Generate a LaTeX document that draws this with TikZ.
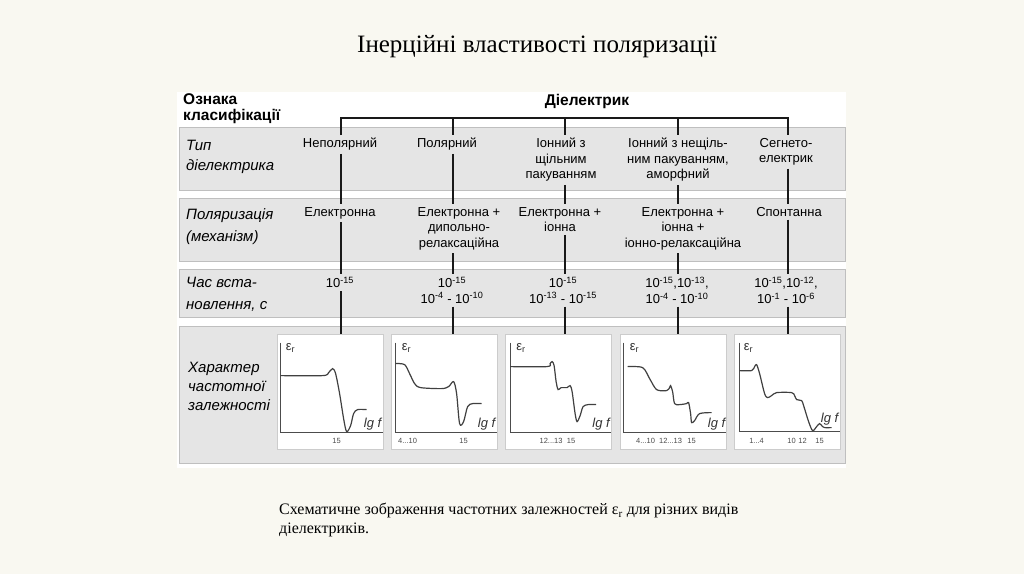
\documentclass[tikz,border=0pt]{standalone}
\usepackage{fontspec}
\setmainfont{Liberation Serif}
\setsansfont{Liberation Sans}
\usepackage{tikz}

\newcommand{\tenp}[1]{10\textsuperscript{#1}}

\begin{document}
\begin{tikzpicture}[x=1pt, y=-1pt,
    band/.style={draw=black!25, fill=black!10, line width=0.8pt},
    colline/.style={line width=2.6pt, black!90},
    coltext/.style={font=\sffamily\fontsize{13}{15.5}\selectfont, align=center, anchor=north, inner sep=3pt},
    rowlabel/.style={font=\sffamily\itshape\fontsize{15}{20}\selectfont, align=left, anchor=north west, inner sep=0pt},
    graphbox/.style={draw=black!20, fill=white, line width=0.8pt, minimum width=106pt, minimum height=115pt, inner sep=0pt},
    curve/.style={line width=1.2pt, black!75},
    axis/.style={line width=1.1pt, black!70},
    tick/.style={font=\sffamily\fontsize{7.5}{8}\selectfont, text=black!70, inner sep=0pt},
    lgf/.style={font=\sffamily\itshape\fontsize{13}{13}\selectfont, text=black!80, inner sep=0pt},
    eps/.style={font=\sffamily\fontsize{13}{13}\selectfont, text=black!80, inner sep=0pt}]
                \fill[black!3!white!97!yellow] (0,0) rectangle (1024,574);
                \useasboundingbox (0,0) rectangle (1024,574);
                \node[font=\fontsize{25}{30}\selectfont] (title) at (537,47) {Інерційні властивості поляризації};
                \fill[white] (177,92) rectangle (846,468);
                \draw[band] (179,127) rectangle (845,190);
                \draw[band] (179,198) rectangle (845,261);
                \draw[band] (179,269) rectangle (845,317);
                \draw[band] (179,326) rectangle (845,463);
                % head of the table
                \node[font=\sffamily\bfseries\fontsize{15.5}{16}\selectfont, align=left, anchor=north west, inner sep=0pt] (sign) at (183,93) {Ознака\\класифікації};
                \node[font=\sffamily\bfseries\fontsize{15.5}{18}\selectfont] (diel) at (587,101) {Діелектрик};
                \node[rowlabel] (type) at (186,140) {Тип\\діелектрика};
                \node[rowlabel, font=\sffamily\itshape\fontsize{15}{22}\selectfont] (mech) at (186,208) {Поляризація\\(механізм)};
                \node[rowlabel, font=\sffamily\itshape\fontsize{15}{22}\selectfont] (time) at (186,277) {Час вста-\\новлення, с};
                \node[rowlabel, font=\sffamily\itshape\fontsize{15}{19}\selectfont] (char) at (188,362) {Характер\\частотної\\залежності};
                % columns
                \foreach \i/\x in {1/341, 2/453, 3/565, 4/678, 5/788}
                    \coordinate (top\i) at (\x,118);
                \node[coltext] (t1) at (340,135) {Неполярний};
                \node[coltext] (t2) at (447,135) {Полярний};
                \node[coltext] (t3) at (561,135) {Іонний з\\щільним\\пакуванням};
                \node[coltext] (t4) at (678,135) {Іонний з нещіль-\\ним пакуванням,\\аморфний};
                \node[coltext] (t5) at (786,135) {Сегнето-\\електрик};
                \node[coltext] (p1) at (340,204) {Електронна};
                \node[coltext] (p2) at (459,204) {Електронна +\\дипольно-\\релаксаційна};
                \node[coltext] (p3) at (560,204) {Електронна +\\іонна};
                \node[coltext] (p4) at (683,204) {Електронна +\\іонна +\\іонно-релаксаційна};
                \node[coltext] (p5) at (789,204) {Спонтанна};
                \node[coltext] (h1) at (340,274) {\tenp{-15}};
                \node[coltext] (h2) at (452,274) {\tenp{-15}\\\tenp{-4} - \tenp{-10}};
                \node[coltext] (h3) at (563,274) {\tenp{-15}\\\tenp{-13} - \tenp{-15}};
                \node[coltext] (h4) at (677,274) {\tenp{-15},\tenp{-13},\\\tenp{-4} - \tenp{-10}};
                \node[coltext] (h5) at (786,274) {\tenp{-15},\tenp{-12},\\\tenp{-1} - \tenp{-6}};
                \node[graphbox] (g1) at (330,391.5) {};
                \node[graphbox] (g2) at (444,391.5) {};
                \node[graphbox] (g3) at (558.5,391.5) {};
                \node[graphbox] (g4) at (673,391.5) {};
                \node[graphbox] (g5) at (787,391.5) {};
                \draw[colline] (t1.north -| top1) -- (top1) -- (top5) -- (t5.north -| top5);
                \foreach \i in {2,3,4}
                    \draw[colline] (top\i) -- (t\i.north -| top\i);
                \foreach \i in {1,...,5} {
                    \draw[colline] (t\i.south -| top\i) -- (p\i.north -| top\i);
                    \draw[colline] (p\i.south -| top\i) -- (h\i.north -| top\i);
                    \draw[colline] (h\i.south -| top\i) -- (g\i.north -| top\i);
                }
                % graphs
                \begin{scope}[shift={(g1.north west)}]
                    \draw[axis] (4,9) -- (4,99) -- (106,99);
                    \draw[curve] plot[smooth, tension=0.5] coordinates {(4,42) (46,42) (52,39) (56,35) (59,40) (63,60) (67,85) (70,98) (74,92) (77,80) (81,76) (90,76)};
                    \node[eps] (e1) at (14,14) {ε\textsubscript{r}};
                    \node[lgf] (l1) at (96,91) {lg f};
                    \node[tick] (n1) at (60,107) {15};
                \end{scope}
                \begin{scope}[shift={(g2.north west)}]
                    \draw[axis] (5,9) -- (5,99) -- (106,99);
                    \draw[curve] plot[smooth, tension=0.5] coordinates {(5,30) (14,31) (19,40) (24,50) (30,54) (51,55) (58,53) (63,48) (66,60) (69,90) (73,88) (77,73) (82,70) (91,70)};
                    \node[eps] (e2) at (16,14) {ε\textsubscript{r}};
                    \node[lgf] (l2) at (96,91) {lg f};
                    \node[tick] (a2) at (17,107) {4...10};
                    \node[tick] (b2) at (73,107) {15};
                \end{scope}
                \begin{scope}[shift={(g3.north west)}]
                    \draw[axis] (5,9) -- (5,99) -- (106,99);
                    \draw[curve] plot[smooth, tension=0.5] coordinates {(5,33) (42,33) (45,30) (47,28) (49,32) (51,48) (53,56) (56,54) (62,54) (65,52) (67,58) (70,80) (72,88) (75,82) (78,73) (83,71) (91,71)};
                    \node[eps] (e3) at (16,14) {ε\textsubscript{r}};
                    \node[lgf] (l3) at (96,91) {lg f};
                    \node[tick] (a3) at (46,107) {12...13};
                    \node[tick] (b3) at (66,107) {15};
                \end{scope}
                \begin{scope}[shift={(g4.north west)}]
                    \draw[axis] (4,9) -- (4,99) -- (106,99);
                    \draw[curve] plot[smooth, tension=0.5] coordinates {(8,33) (23,34) (30,45) (37,56) (47,57) (50,54) (51,52) (53,58) (55,70) (60,71) (67,70) (69,69) (71,80) (72,89) (75,87) (80,80) (92,79)};
                    \node[eps] (e4) at (15,14) {ε\textsubscript{r}};
                    \node[lgf] (l4) at (97,91) {lg f};
                    \node[tick] (a4) at (26,107) {4...10};
                    \node[tick] (b4) at (51,107) {12...13};
                    \node[tick] (c4) at (72,107) {15};
                \end{scope}
                \begin{scope}[shift={(g5.north west)}]
                    \draw[axis] (6,9) -- (6,98) -- (106,98);
                    \draw[curve] plot[smooth, tension=0.5] coordinates {(6,37) (18,37) (21,33) (23,31) (26,40) (31,60) (34,64) (38,62) (43,59) (58,59) (61,62) (63,66) (68,67) (70,72) (75,88) (79,97) (83,93) (86,90) (89,93) (91,94) (98,94)};
                    \node[eps] (e5) at (15,14) {ε\textsubscript{r}};
                    \node[lgf] (l5) at (96,86) {lg f};
                    \node[tick] (a5) at (23,107) {1...4};
                    \node[tick] (b5) at (58,107) {10};
                    \node[tick] (c5) at (69,107) {12};
                    \node[tick] (d5) at (86,107) {15};
                \end{scope}
                \node[anchor=north west, align=left, inner sep=0pt, font=\fontsize{16}{19}\selectfont] (caption) at (279,503) {Схематичне зображення частотних залежностей ε\textsubscript{r} для різних видів\\діелектриків.};
              \end{tikzpicture}
\end{document}
